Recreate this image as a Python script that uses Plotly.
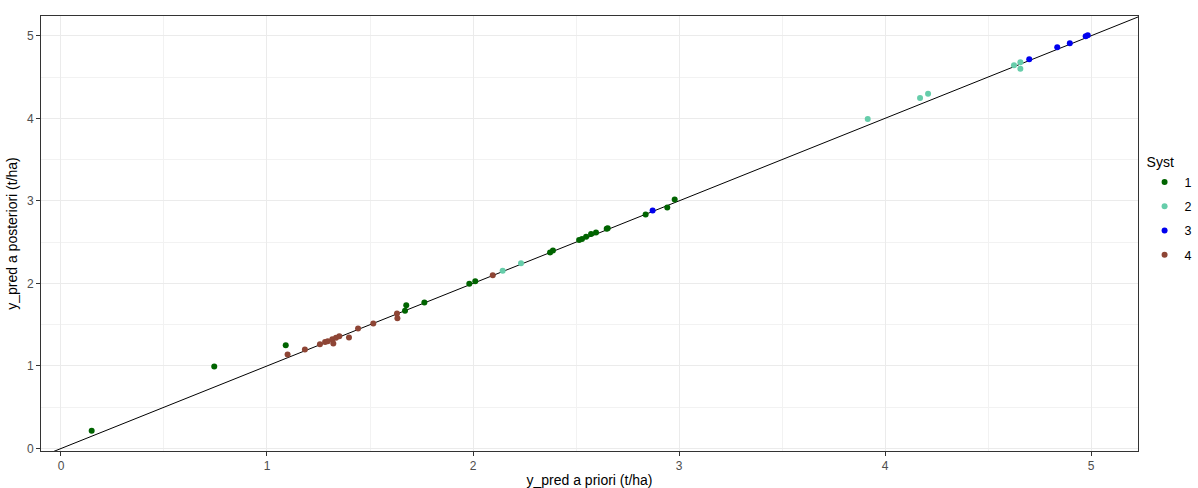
import plotly.graph_objects as go

# Data
syst1_x = [0.149, 0.744, 1.091, 1.670, 1.676, 1.764, 1.982, 2.011, 2.374, 2.388,
           2.515, 2.529, 2.549, 2.573, 2.597, 2.649, 2.654, 2.838, 2.943, 2.979]
syst1_y = [0.214, 0.993, 1.252, 1.668, 1.737, 1.770, 1.995, 2.028, 2.376, 2.400,
           2.525, 2.537, 2.565, 2.598, 2.618, 2.662, 2.670, 2.836, 2.921, 3.018]

syst2_x = [2.144, 2.233, 3.916, 4.170, 4.209, 4.626, 4.657, 4.657]
syst2_y = [2.153, 2.246, 3.991, 4.246, 4.298, 4.642, 4.679, 4.601]

syst3_x = [2.872, 4.700, 4.836, 4.897, 4.974, 4.984]
syst3_y = [2.885, 4.715, 4.861, 4.909, 4.994, 5.006]

syst4_x = [1.100, 1.184, 1.257, 1.282, 1.295, 1.317, 1.322, 1.335, 1.351, 1.398,
           1.442, 1.516, 1.631, 1.633, 2.096]
syst4_y = [1.139, 1.200, 1.264, 1.292, 1.300, 1.325, 1.273, 1.341, 1.361, 1.345,
           1.455, 1.515, 1.636, 1.579, 2.100]

series_names = ["1", "2", "3", "4"]
series_x = [syst1_x, syst2_x, syst3_x, syst4_x]
series_y = [syst1_y, syst2_y, syst3_y, syst4_y]
colors = ["#006400", "#66CDAA", "#0000EE", "#8E4535"]

x_range = [-0.097, 5.228]
y_range = [-0.03, 5.24]

fig = go.Figure()

# identity line y = x spanning the panel
fig.add_trace(go.Scatter(x=[-0.2, 5.4], y=[-0.2, 5.4], mode="lines",
                         line=dict(color="black", width=1), showlegend=False,
                         hoverinfo="skip"))

for name, xs, ys, c in zip(series_names, series_x, series_y, colors):
    fig.add_trace(go.Scatter(x=xs, y=ys, mode="markers", name=name,
                             legendgroup=name,
                             marker=dict(color=c, size=6, line=dict(width=0))))

font_family = "Liberation Sans, Arial, sans-serif"
axis_common = dict(
    showgrid=True, gridcolor="#EBEBEB", gridwidth=1,
    zeroline=False, showline=True, linecolor="#333333", linewidth=1, mirror=True,
    ticks="outside", ticklen=4, tickcolor="#333333",
    tickfont=dict(size=12, color="#4D4D4D", family=font_family),
    minor=dict(dtick=0.5, showgrid=True, gridcolor="#F2F2F2", gridwidth=1, ticks=""),
    dtick=1, tick0=0, automargin=False,
)

fig.update_layout(
    width=1198, height=488,
    margin=dict(l=41, r=60, t=16, b=37, autoexpand=False),
    paper_bgcolor="white", plot_bgcolor="white",
    font=dict(family=font_family, color="black"),
    xaxis=dict(range=x_range, title=dict(text="y_pred a priori (t/ha)",
               font=dict(size=14, family=font_family), standoff=2), **axis_common),
    yaxis=dict(range=y_range, title=dict(text="y_pred a posteriori (t/ha)",
               font=dict(size=14, family=font_family), standoff=6), **axis_common),
    legend=dict(title=dict(text="Syst", font=dict(size=14)),
                x=1.006, xanchor="left", y=0.694, yanchor="top",
                font=dict(size=12.5), tracegroupgap=5,
                itemwidth=30, bgcolor="rgba(0,0,0,0)"),
    showlegend=True,
)

fig.write_html("out.html", config={"displayModeBar": False},
               post_script="document.body.style.margin='0';document.body.style.overflow='hidden';")
